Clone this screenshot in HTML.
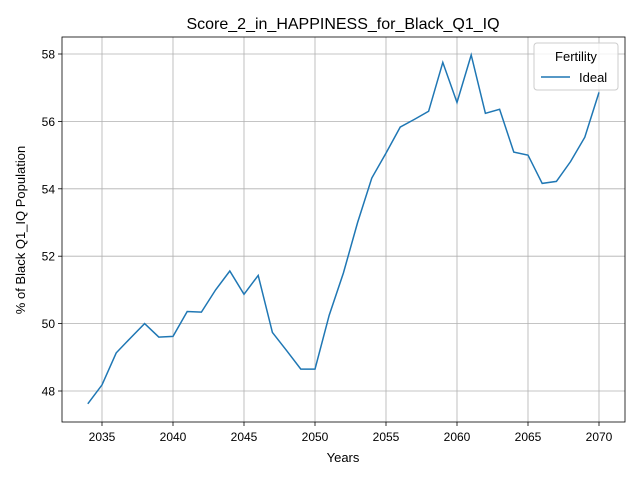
<!DOCTYPE html>
<html><head><meta charset="utf-8"><style>
body{margin:0;background:#fff}
svg text{font-family:"Liberation Sans","DejaVu Sans",sans-serif}
</style></head><body>
<svg id="chart" width="640" height="480" xmlns="http://www.w3.org/2000/svg">
<rect width="640" height="480" fill="#fff"/>
<g id="grid"></g>
<g id="axes"></g>
<path id="line" fill="none" stroke="#1f77b4" stroke-width="1.5"/>
<rect x="62" y="37" width="563" height="385" fill="none" stroke="#000" stroke-width="0.8"/>
<text x="343" y="29" font-size="16" text-anchor="middle">Score_2_in_HAPPINESS_for_Black_Q1_IQ</text>
<text x="343" y="462" font-size="13" text-anchor="middle">Years</text>
<text x="0" y="0" font-size="13" text-anchor="middle" transform="translate(25,230) rotate(-90)">% of Black Q1_IQ Population</text>
<g>
<rect x="534" y="43" width="84" height="47" rx="3" fill="#fff" fill-opacity="0.8" stroke="#ccc"/>
<text x="576" y="61" font-size="13" text-anchor="middle">Fertility</text>
<line x1="541" y1="77" x2="570" y2="77" stroke="#1f77b4" stroke-width="1.5"/>
<text x="579" y="82" font-size="13">Ideal</text>
</g>
</svg>
<script>
const years=[2034,2035,2036,2037,2038,2039,2040,2041,2042,2043,2044,2045,2046,2047,2048,2049,2050,2051,2052,2053,2054,2055,2056,2057,2058,2059,2060,2061,2062,2063,2064,2065,2066,2067,2068,2069,2070];
const values=[47.62,48.18,49.13,49.57,50.0,49.6,49.62,50.36,50.34,51.0,51.56,50.87,51.43,49.74,49.2,48.65,48.65,50.25,51.5,53.0,54.32,55.06,55.83,56.06,56.3,57.75,56.56,57.97,56.24,56.36,55.09,55.0,54.16,54.22,54.81,55.53,56.86];
const xTicks=[2035,2040,2045,2050,2055,2060,2065,2070];
const yTicks=[48,50,52,54,56,58];
const x=v=>102+(v-2035)*(497/35);
const y=v=>391-(v-48)*(337/10);
const NS="http://www.w3.org/2000/svg";
const grid=document.getElementById('grid'),axes=document.getElementById('axes');
function mk(t,a,p){const e=document.createElementNS(NS,t);for(const k in a)e.setAttribute(k,a[k]);p.appendChild(e);return e;}
xTicks.forEach(t=>{
 const g=mk('line',{x1:x(t),x2:x(t),y1:37,y2:422,stroke:'#b0b0b0','stroke-width':0.8},grid);
 
 
 mk('line',{x1:x(t),x2:x(t),y1:422,y2:426,stroke:'#000','stroke-width':0.8},axes);
 const l=mk('text',{x:x(t),y:441,'font-size':12,'text-anchor':'middle'},axes);l.textContent=t;
 
 
});
yTicks.forEach(t=>{
 const g=mk('line',{x1:62,x2:625,y1:y(t),y2:y(t),stroke:'#b0b0b0','stroke-width':0.8},grid);
 
 
 mk('line',{x1:58,x2:62,y1:y(t),y2:y(t),stroke:'#000','stroke-width':0.8},axes);
 const l=mk('text',{x:55,y:y(t)+4.5,'font-size':12,'text-anchor':'end'},axes);l.textContent=t;
 
 
});
document.getElementById('line').setAttribute('d',years.map((yr,i)=>(i?'L':'M')+x(yr).toFixed(1)+','+y(values[i]).toFixed(1)).join(''));
</script>
</body></html>
